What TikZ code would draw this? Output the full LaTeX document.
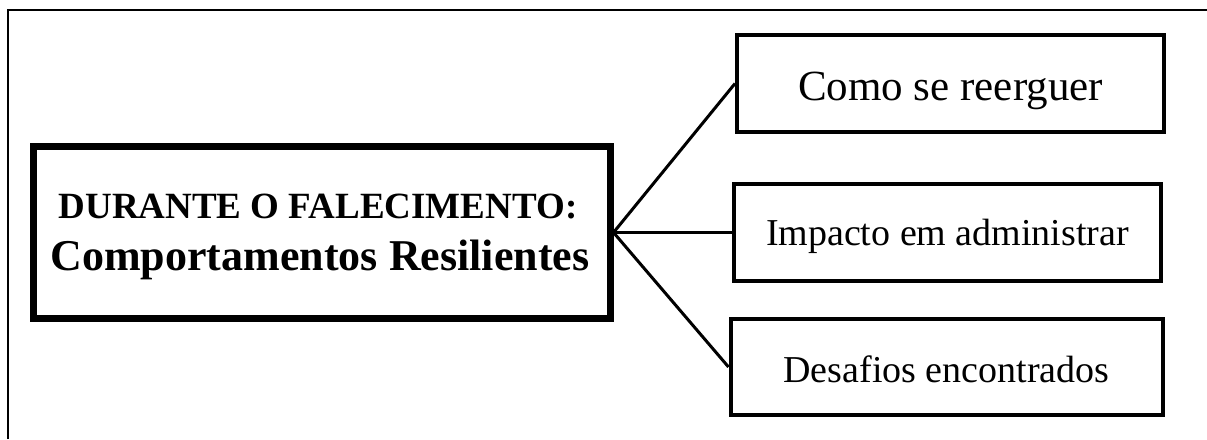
\documentclass[tikz,border=0pt]{standalone}
\usepackage{fontspec}
\setmainfont{Liberation Serif}
\begin{document}
\begin{tikzpicture}[x=1pt,y=-1pt,
  mainbox/.style={draw=black,line width=7pt,inner sep=0pt,minimum width=577pt,minimum height=172pt},
  sidebox/.style={draw=black,line width=4pt,inner sep=0pt,minimum width=427pt,minimum height=97pt,text depth=7pt},
  maintext/.style={anchor=base,inner sep=0pt,font=\bfseries},
  link/.style={draw=black,line width=3pt}]
\useasboundingbox (0,0) rectangle (1207,439);
\draw[line width=2pt] (8,439) -- (8,10) -- (1207,10);
\node[mainbox] (L) at (321.5,232.5) {};
\node[maintext] (L1) at (318,218) {\fontsize{37}{40}\selectfont DURANTE O FALECIMENTO:};
\node[maintext] (L2) at (320,270) {\fontsize{44}{48}\selectfont Comportamentos Resilientes};
\node[sidebox,text height=40pt] (T) at (950.5,83.5) {\fontsize{43}{50}\selectfont Como se reerguer};
\node[sidebox,text height=32pt] (M) at (947.5,232.5) {\fontsize{38}{46}\selectfont Impacto em administrar};
\node[sidebox,text height=37pt,minimum width=432pt,minimum height=96pt] (B) at (946.5,367) {\fontsize{38}{46}\selectfont Desafios encontrados};
\draw[link] (L.east) -- (T.west);
\draw[link] (L.east) -- (M.west);
\draw[link] (L.east) -- (B.west);
\end{tikzpicture}
\end{document}
